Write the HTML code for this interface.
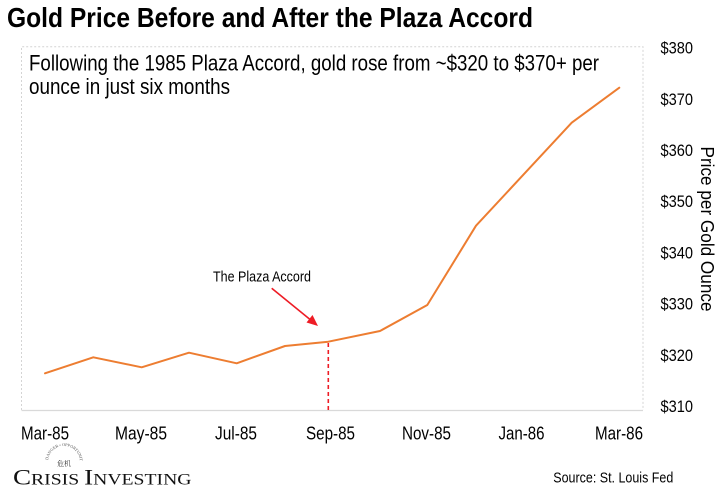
<!DOCTYPE html>
<html>
<head>
<meta charset="utf-8">
<style>
  html,body{margin:0;padding:0;background:#fff;}
  svg{display:block;}
  .s{font-family:"Liberation Sans", Arial, sans-serif; fill:#000;}
</style>
</head>
<body>
<svg width="728" height="496" viewBox="0 0 728 496" xmlns="http://www.w3.org/2000/svg">
  <rect x="0" y="0" width="728" height="496" fill="#fff"/>

  <!-- Title -->
  <text class="s" x="7" y="27" font-size="28" font-weight="bold" textLength="526" lengthAdjust="spacingAndGlyphs">Gold Price Before and After the Plaza Accord</text>

  <!-- Plot box (dashed) -->
  <path d="M21.5 410 L21.5 46.7 L643 46.7 L643 410" fill="none" stroke="#d4d4d4" stroke-width="1" stroke-dasharray="2,2"/>
  <line x1="21.5" y1="410.5" x2="643" y2="410.5" stroke="#d9d9d9" stroke-width="1.2"/>

  <!-- Subtitle -->
  <text class="s" x="29" y="70.7" font-size="22" textLength="570" lengthAdjust="spacingAndGlyphs">Following the 1985 Plaza Accord, gold rose from ~$320 to $370+ per</text>
  <text class="s" x="29" y="94" font-size="22" textLength="201" lengthAdjust="spacingAndGlyphs">ounce in just six months</text>

  <!-- Y axis labels -->
  <g font-size="17" class="s">
    <text x="660.5" y="53.5" textLength="32.5" lengthAdjust="spacingAndGlyphs">$380</text>
    <text x="660.5" y="105" textLength="32.5" lengthAdjust="spacingAndGlyphs">$370</text>
    <text x="660.5" y="156" textLength="32.5" lengthAdjust="spacingAndGlyphs">$360</text>
    <text x="660.5" y="207" textLength="32.5" lengthAdjust="spacingAndGlyphs">$350</text>
    <text x="660.5" y="258.5" textLength="32.5" lengthAdjust="spacingAndGlyphs">$340</text>
    <text x="660.5" y="309.5" textLength="32.5" lengthAdjust="spacingAndGlyphs">$330</text>
    <text x="660.5" y="361" textLength="32.5" lengthAdjust="spacingAndGlyphs">$320</text>
    <text x="660.5" y="412" textLength="32.5" lengthAdjust="spacingAndGlyphs">$310</text>
  </g>

  <!-- Y axis title -->
  <text class="s" transform="translate(701,229) rotate(90)" text-anchor="middle" font-size="18" textLength="165" lengthAdjust="spacingAndGlyphs">Price per Gold Ounce</text>

  <!-- X axis labels -->
  <g font-size="18" class="s">
    <text x="21" y="439.3" textLength="48" lengthAdjust="spacingAndGlyphs">Mar-85</text>
    <text x="115" y="439.3" textLength="52" lengthAdjust="spacingAndGlyphs">May-85</text>
    <text x="215" y="439.3" textLength="42" lengthAdjust="spacingAndGlyphs">Jul-85</text>
    <text x="306" y="439.3" textLength="49" lengthAdjust="spacingAndGlyphs">Sep-85</text>
    <text x="402" y="439.3" textLength="49" lengthAdjust="spacingAndGlyphs">Nov-85</text>
    <text x="498.5" y="439.3" textLength="46" lengthAdjust="spacingAndGlyphs">Jan-86</text>
    <text x="595" y="439.3" textLength="48" lengthAdjust="spacingAndGlyphs">Mar-86</text>
  </g>

  <!-- Red dashed Plaza line -->
  <line x1="328.3" y1="343" x2="328.3" y2="410" stroke="#ee1c25" stroke-width="1.6" stroke-dasharray="4,3"/>

  <!-- Series -->
  <polyline fill="none" stroke="#ed7d31" stroke-width="2" stroke-linejoin="round" stroke-linecap="round"
    points="45,373.3 93.3,357.3 141.7,367.3 189,352.7 236.7,363.3 285,346 328.3,341.7 380,331 427.3,305 476,225.7 523.5,174.6 571.7,122.7 619.3,87.7"/>

  <!-- Annotation -->
  <text class="s" x="213" y="281.5" font-size="15" textLength="98" lengthAdjust="spacingAndGlyphs">The Plaza Accord</text>
  <line x1="271.7" y1="288.3" x2="311" y2="320.3" stroke="#ee1c25" stroke-width="1.6"/>
  <polygon points="318,326 306.5,322.5 312.5,315" fill="#ee1c25"/>

  <!-- Logo -->
  <defs>
    <path id="arc" d="M48 462 A16 16 0 0 1 80 462"/>
  </defs>
  <text style="font-family:'Liberation Serif', serif; font-size:4.2px; fill:#555;"><textPath href="#arc" startOffset="2">DANGER • OPPORTUNITY</textPath></text>
  <text x="57" y="466" style="font-family:'Liberation Serif','Noto Serif CJK SC', serif; font-size:7px; fill:#333;">危机</text>
  <text x="13" y="484.3" style="font-family:'Liberation Serif', serif; fill:#111;" textLength="178.5" lengthAdjust="spacingAndGlyphs"><tspan style="font-size:22px">C</tspan><tspan style="font-size:16px">RISIS </tspan><tspan style="font-size:22px">I</tspan><tspan style="font-size:16px">NVESTING</tspan></text>

  <!-- Source -->
  <text class="s" x="553.3" y="482.7" font-size="15" textLength="120" lengthAdjust="spacingAndGlyphs">Source: St. Louis Fed</text>
</svg>
</body>
</html>
